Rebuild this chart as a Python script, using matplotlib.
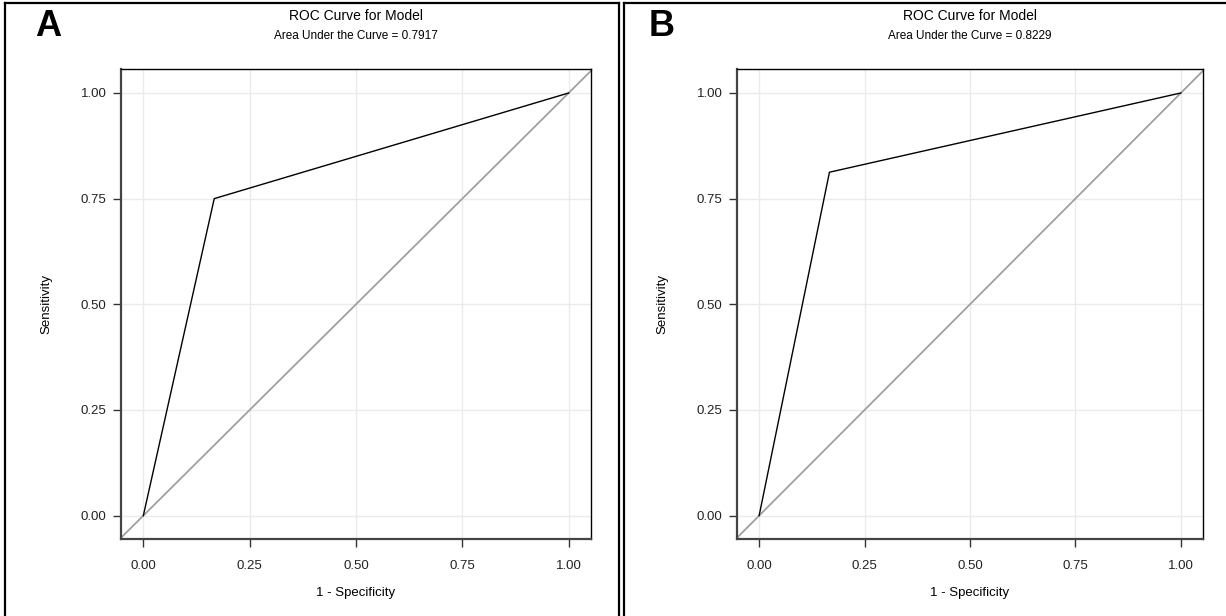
import matplotlib
matplotlib.use("Agg")
import matplotlib.pyplot as plt
from matplotlib.lines import Line2D

plt.rcParams['font.family'] = ['Liberation Sans', 'DejaVu Sans']

# ROC points
fpr_a = [0.0, 0.1667, 1.0]
tpr_a = [0.0, 0.75, 1.0]
fpr_b = [0.0, 0.1667, 1.0]
tpr_b = [0.0, 0.8125, 1.0]
auc = ["0.7917", "0.8229"]
panel_labels = ["A", "B"]
ticks = [0.0, 0.25, 0.5, 0.75, 1.0]
tick_labels = ["0.00", "0.25", "0.50", "0.75", "1.00"]

W, H = 1226, 616
fig = plt.figure(figsize=(W / 100, H / 100), dpi=100)

def fx(x):
    return x / W

def fy(y):
    return 1 - y / H

# panel frames (open at the bottom, as cropped in the original)
frame_kw = dict(color='black', lw=1.6, transform=fig.transFigure)
fig.add_artist(Line2D([fx(5), fx(5)], [fy(3), fy(620)], **frame_kw))
fig.add_artist(Line2D([fx(5), fx(619)], [fy(3), fy(3)], **frame_kw))
fig.add_artist(Line2D([fx(619), fx(619)], [fy(3), fy(620)], **frame_kw))
fig.add_artist(Line2D([fx(624), fx(624)], [fy(3), fy(620)], **frame_kw))
fig.add_artist(Line2D([fx(624), fx(1230)], [fy(3), fy(3)], **frame_kw))

axes_px = [(121, 470), (737, 466)]
top_px, bot_px = 69.3, 539.3
data = [(fpr_a, tpr_a), (fpr_b, tpr_b)]

for i, (left, width) in enumerate(axes_px):
    ax = fig.add_axes([fx(left), fy(bot_px), width / W, (bot_px - top_px) / H])
    ax.set_xlim(-0.0525, 1.0525)
    ax.set_ylim(-0.056, 1.056)
    ax.grid(True, color='#ebebeb', lw=1.0)
    ax.set_axisbelow(True)
    ax.axline((0, 0), (1, 1), color='#a0a0a0', lw=1.3, zorder=2)
    ax.plot(data[i][0], data[i][1], color='black', lw=1.0, zorder=3)

    ax.set_xticks(ticks)
    ax.set_xticklabels(tick_labels)
    ax.set_yticks(ticks)
    ax.set_yticklabels(tick_labels)
    ax.tick_params(axis='both', direction='out', length=6, width=1,
                   color='#333333', labelsize=9.5, labelcolor='#222222')
    ax.tick_params(axis='y', pad=4.5)
    ax.tick_params(axis='x', pad=9)

    for s in ['left', 'bottom']:
        ax.spines[s].set_linewidth(1.6)
        ax.spines[s].set_color('#444444')
    for s in ['top', 'right']:
        ax.spines[s].set_linewidth(1.0)
        ax.spines[s].set_color('black')

    ax.set_xlabel('1 - Specificity', fontsize=9.5, labelpad=11)
    ax.set_ylabel('Sensitivity', fontsize=9.5, labelpad=20)

    cx = left + width / 2
    fig.text(fx(cx), fy(16), 'ROC Curve for Model', ha='center', va='center',
             fontsize=10)
    fig.text(fx(cx), fy(36), 'Area Under the Curve = ' + auc[i],
             ha='center', va='center', fontsize=8.5)

fig.text(fx(35), fy(27), panel_labels[0], ha='left', va='center',
         fontsize=26, fontweight='bold')
fig.text(fx(649), fy(27), panel_labels[1], ha='left', va='center',
         fontsize=26, fontweight='bold')

fig.savefig('out.png', dpi=100)
